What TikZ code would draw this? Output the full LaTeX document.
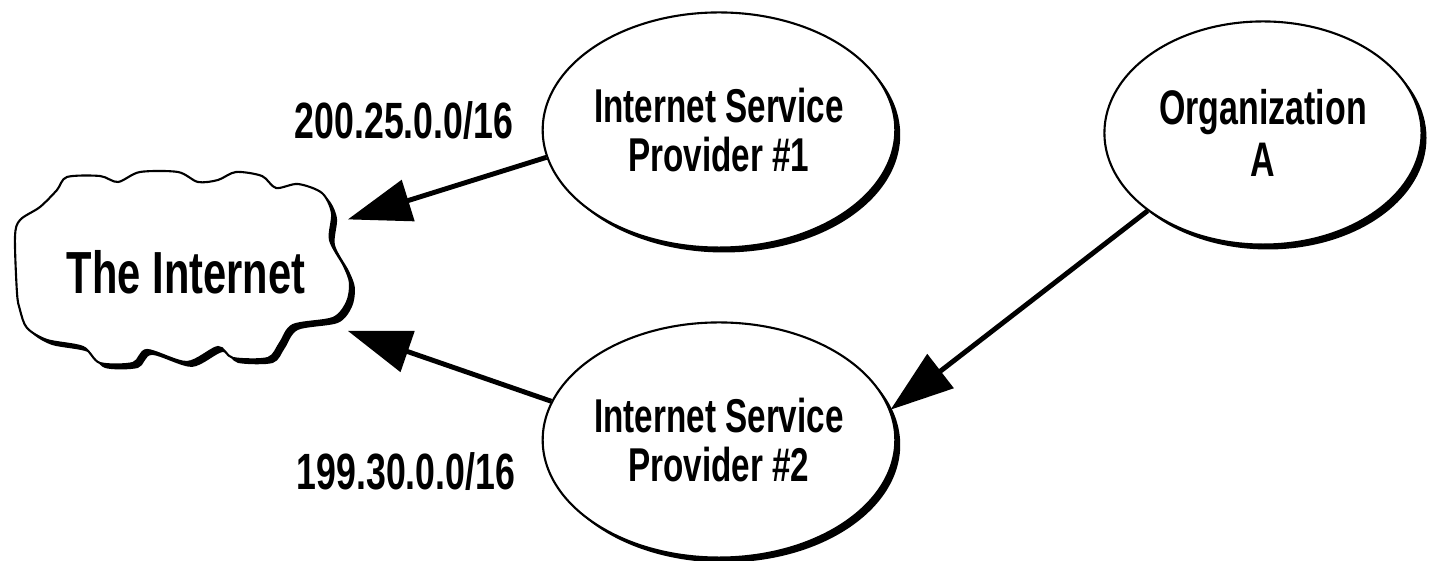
\documentclass[tikz,border=0pt]{standalone}
\usepackage{fontspec}
\setmainfont{Liberation Sans}[FakeStretch=0.7]
\usetikzlibrary{shapes.geometric,shadows,arrows.meta}

\begin{document}
\begin{tikzpicture}[x=0.01cm, y=-0.01cm,
    shadowed/.style={drop shadow={fill=black, opacity=1, shadow xshift=1.4pt, shadow yshift=-1.4pt}},
    site/.style={ellipse, draw, line width=0.6pt, fill=white, inner sep=0pt, shadowed,
      minimum width=3.48cm, minimum height=2.35cm, align=center,
      font=\bfseries\fontsize{13.5}{13.8}\selectfont},
    route/.style={line width=1.4pt, -{Triangle[length=18pt, width=12pt]}},
    blocklabel/.style={font=\bfseries\fontsize{14.5}{15}\selectfont}]
    \useasboundingbox (0,0) rectangle (1429,561);
    % the internet cloud
    \draw [fill=white, line width=0.6pt, shadowed] plot [smooth cycle, tension=0.5] coordinates {
      (67,177) (100,176) (118,182) (140,172) (178,172) (198,182) (218,180) (236,172)
      (262,176) (276,188) (298,184) (322,193) (332,213) (330,240) (344,266) (350,283)
      (347,302) (333,318) (293,325) (280,343) (268,358) (233,358) (218,347) (187,362)
      (147,350) (133,363) (100,363) (83,347) (47,340) (27,328) (20,310) (17,293)
      (15,237) (20,220) (40,207) (57,190)} ;
    \node [inner sep=0pt, minimum width=3.22cm, minimum height=2cm,
      font=\bfseries\fontsize{16.9}{17}\selectfont] (net) at (186,272) {The Internet} ;

    \node [site] (isp1) at (719,130) {Internet Service\\Provider \#1} ;
    \node [site] (isp2) at (719,440) {Internet Service\\Provider \#2} ;
    \node [site, minimum width=3.17cm, minimum height=2.23cm,
      font=\bfseries\fontsize{13.8}{15}\selectfont] (orga) at (1263,133) {Organization\\A} ;

    \draw [route] (isp1.189) -- (net.18) ;
    \draw [route] (isp2.167) -- (net.-20) ;
    \draw [route] (orga.214) -- (isp2.10) ;

    \node [blocklabel] (pfx1) at (404,121) {200.25.0.0/16} ;
    \node [blocklabel] (pfx2) at (406,472) {199.30.0.0/16} ;
\end{tikzpicture}
\end{document}
